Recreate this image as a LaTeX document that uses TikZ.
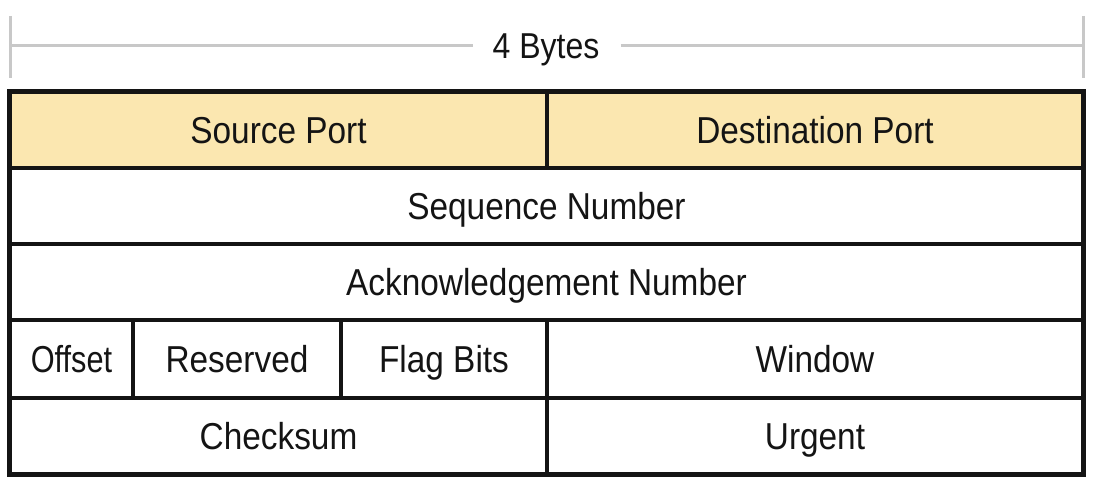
\documentclass[tikz,border=0pt]{standalone}
\usepackage{fontspec}
\setmainfont{Liberation Sans}[FakeStretch=0.89]
\definecolor{hdrfill}{RGB}{251,231,176}
\definecolor{rulegray}{RGB}{200,200,200}
\definecolor{inkline}{RGB}{20,20,20}
\begin{document}
\begin{tikzpicture}[x=1pt,y=-1pt,
  cell/.style={draw=inkline, line width=3.1pt, inner sep=0pt, text height=26.9pt, text depth=0pt,
    font=\fontsize{37.5}{40}\selectfont, text=inkline},
  hdr/.style={cell, fill=hdrfill},
  bracket/.style={draw=rulegray, line width=3pt}]
\useasboundingbox (0,0) rectangle (1098,484);
% header width marker
\coordinate (bl) at (10,16);
\coordinate (blb) at (10,78);
\coordinate (br) at (1083,16);
\coordinate (brb) at (1083,78);
\coordinate (ml) at (10,46);
\coordinate (mr) at (1083,46);
\node[font=\fontsize{36}{40}\selectfont, text=inkline, inner sep=0pt, text height=25.8pt, text depth=0pt] (bytes) at (546,46) {4 Bytes};
\draw[bracket] (bl) -- (blb);
\draw[bracket] (br) -- (brb);
\draw[bracket] (ml) -- ([xshift=-19pt]bytes.west |- ml);
\draw[bracket] ([xshift=21pt]bytes.east |- mr) -- (mr);
% row 1
\node[hdr, minimum width=537pt, minimum height=76pt] (src) at (278.5,130) {Source Port};
\node[hdr, minimum width=536pt, minimum height=76pt] (dst) at (815,130) {Destination Port};
% row 2
\node[cell, minimum width=1073pt, minimum height=76pt] (seq) at (546.5,206) {Sequence Number};
% row 3
\node[cell, minimum width=1073pt, minimum height=76pt] (ack) at (546.5,282) {Acknowledgement Number};
% row 4
\node[cell, minimum width=123pt, minimum height=78pt] (off) at (71.5,359) {\scalebox{0.92}[1]{Offset}};
\node[cell, minimum width=208pt, minimum height=78pt] (res) at (237,359) {Reserved};
\node[cell, minimum width=206pt, minimum height=78pt] (flg) at (444,359) {Flag Bits};
\node[cell, minimum width=536pt, minimum height=78pt] (win) at (815,359) {Window};
% row 5
\node[cell, minimum width=537pt, minimum height=76pt] (chk) at (278.5,436) {Checksum};
\node[cell, minimum width=536pt, minimum height=76pt] (urg) at (815,436) {Urgent};
% heavier outer frame
\draw[draw=inkline, line width=3.8pt] (src.north west) rectangle (urg.south east);
\end{tikzpicture}
\end{document}
